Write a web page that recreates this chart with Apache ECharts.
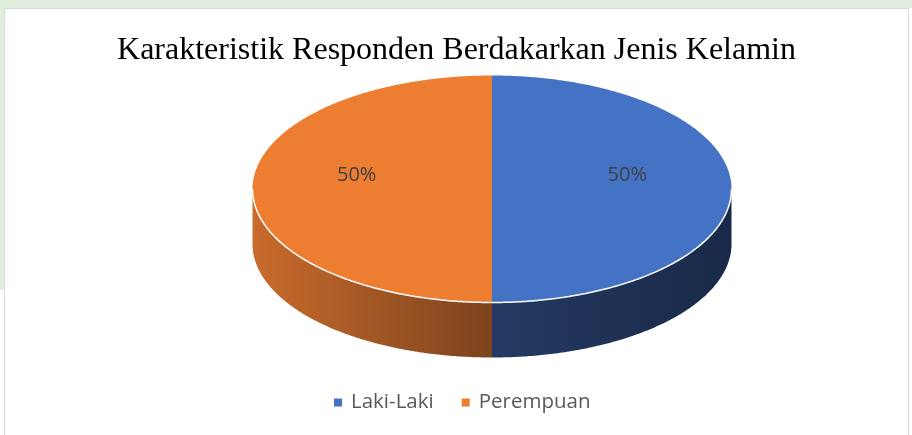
<!DOCTYPE html>
<html>
<head>
<meta charset="utf-8">
<script src="https://cdn.jsdelivr.net/npm/echarts@6/dist/echarts.min.js"></script>
<style>
  html, body { margin: 0; padding: 0; width: 912px; height: 435px; overflow: hidden; background: #fff; }
  #topband { position: absolute; left: 0; top: 0; width: 912px; height: 8px; background: #e2efdf; }
  #leftband { position: absolute; left: 0; top: 0; width: 4px; height: 290px; background: #e2efdf; }
  #frame { position: absolute; left: 4px; top: 8px; width: 903px; height: 440px; border: 1px solid #d9d9d9; background: #fff; }
  #main { width: 903px; height: 440px; }
</style>
</head>
<body>
<div id="topband"></div>
<div id="leftband"></div>
<div id="frame"><div id="main"></div></div>
<script>
var titleText = 'Karakteristik Responden Berdakarkan Jenis Kelamin';
var categories = ['Laki-Laki', 'Perempuan'];
var values = [50, 50];

// warna permukaan atas dan sisi (gradasi)
var topColors = ['#4472C4', '#ED7D31'];
var sideColors = [['#243a62', '#1a2949'], ['#c96b2c', '#7c431d']];

// ukuran pie 3D (piksel, relatif ke div chart)
var pieCx = 487, pieCy = 180, pieRx = 239.5, pieRy = 113.5, pieDepth = 55;

var total = values.reduce(function (a, b) { return a + b; }, 0);

function ellipsePt(t, dy) {
    return [pieCx + pieRx * Math.cos(t), pieCy + (dy || 0) + pieRy * Math.sin(t)];
}

function arcPts(a0, a1, dy) {
    var pts = [];
    var n = Math.max(2, Math.ceil(Math.abs(a1 - a0) / 0.01));
    for (var k = 0; k <= n; k++) {
        pts.push(ellipsePt(a0 + (a1 - a0) * k / n, dy));
    }
    return pts;
}

function makeRender(i) {
    return function (params, api) {
        var before = 0;
        for (var j = 0; j < i; j++) before += values[j];
        var start = -Math.PI / 2 + 2 * Math.PI * before / total;
        var end = start + 2 * Math.PI * values[i] / total;
        var children = [];

        // sisi depan yang terlihat (sudut 0..PI)
        var s = Math.max(start, 0), e = Math.min(end, Math.PI);
        if (e > s) {
            var upper = arcPts(s, e, 0);
            var lower = arcPts(e, s, pieDepth);
            children.push({
                type: 'polygon',
                shape: { points: upper.concat(lower) },
                style: {
                    fill: new echarts.graphic.LinearGradient(0, 0, 1, 0, [
                        { offset: 0, color: sideColors[i][0] },
                        { offset: 1, color: sideColors[i][1] }
                    ])
                }
            });
        }

        // permukaan atas
        var top = [[pieCx, pieCy]].concat(arcPts(start, end, 0));
        children.push({
            type: 'polygon',
            shape: { points: top },
            style: { fill: topColors[i] }
        });

        if (e > s) {
            children.push({
                type: 'polyline',
                shape: { points: arcPts(s, e, 0) },
                style: { stroke: '#ffffff', lineWidth: 1.5, fill: null }
            });
        }

        // label persen
        var mid = (start + end) / 2;
        var pct = Math.round(values[i] / total * 100) + '%';
        children.push({
            type: 'text',
            style: {
                text: pct,
                x: pieCx + pieRx * 0.565 * Math.cos(mid),
                y: pieCy + pieRy * 0.5 * Math.sin(mid) - 14,
                align: 'center',
                verticalAlign: 'middle',
                fill: '#404040',
                font: '20px "Open Sans"'
            }
        });
        return { type: 'group', children: children };
    };
}

var chart = echarts.init(document.getElementById('main'));
var series = [];
for (var i = 0; i < categories.length; i++) {
    series.push({
        name: categories[i],
        type: 'custom',
        coordinateSystem: 'none',
        itemStyle: { color: topColors[i] },
        data: [values[i]],
        renderItem: makeRender(i)
    });
}

var option = {
    animation: false,
    title: {
        text: titleText,
        left: 'center',
        top: 21,
        textStyle: {
            fontFamily: '"Liberation Serif", "Times New Roman", serif',
            fontWeight: 'normal',
            fontSize: 32,
            color: '#000000'
        }
    },
    legend: {
        data: categories,
        left: 324,
        top: 378,
        icon: 'rect',
        itemWidth: 8,
        itemHeight: 8,
        itemGap: 28,
        formatter: function (name) { return '{t|' + name + '}'; },
        textStyle: {
            rich: {
                t: { fontFamily: '"Open Sans"', fontSize: 20.5, color: '#595959', padding: [0, 0, 0, 4] }
            }
        }
    },
    series: series
};

chart.setOption(option);
</script>
</body>
</html>
